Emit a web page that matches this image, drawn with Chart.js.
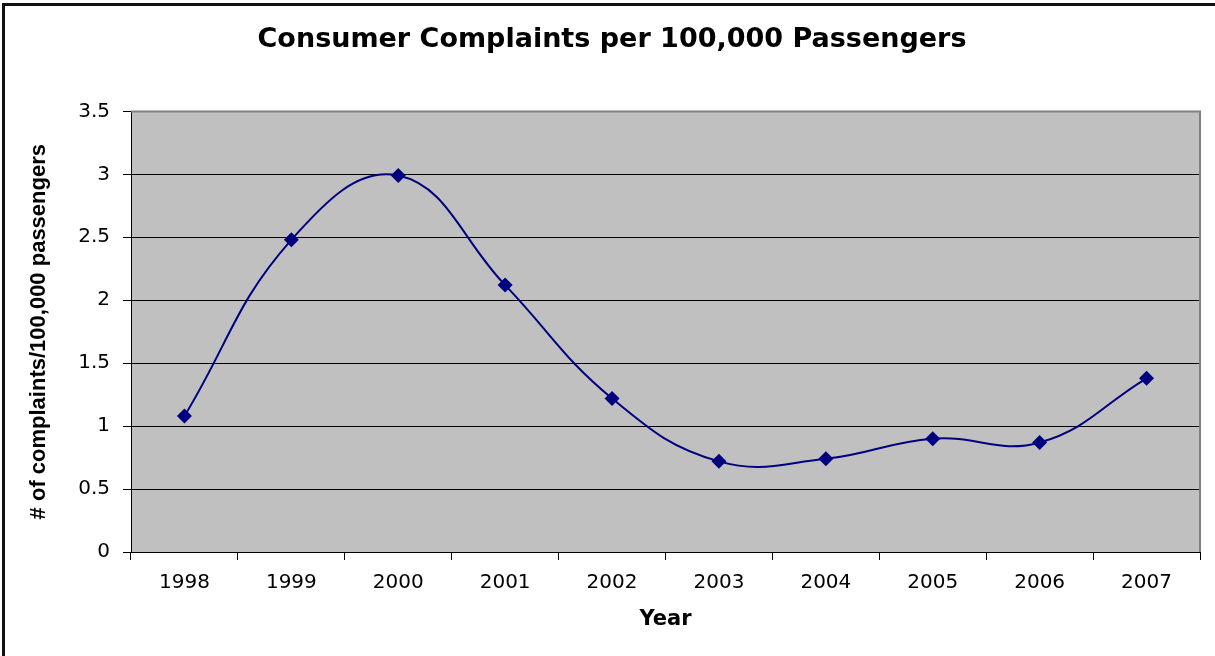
<!DOCTYPE html>
<html>
<head>
<meta charset="utf-8">
<title>Consumer Complaints per 100,000 Passengers</title>
<script src="https://cdn.jsdelivr.net/npm/chart.js@4/dist/chart.umd.min.js"></script>
<style>
  html, body { margin: 0; padding: 0; background: #fff; }
  canvas { display: block; }
</style>
</head>
<body>
<canvas id="chart" width="1215" height="656"></canvas>
<script>
// Years on the category axis
const years = ['1998', '1999', '2000', '2001', '2002', '2003', '2004', '2005', '2006', '2007'];
// Complaints per 100,000 passengers
const complaints = [1.08, 2.48, 2.99, 2.12, 1.22, 0.72, 0.74, 0.90, 0.87, 1.38];
// Value-axis ticks
const yTicks = [0, 0.5, 1, 1.5, 2, 2.5, 3, 3.5];

const yMin = yTicks[0];
const yMax = yTicks[yTicks.length - 1];
const yStep = yTicks[1] - yTicks[0];

// Page background, outer frame, grey plot area and its border
const plotFrame = {
  id: 'plotFrame',
  beforeDraw(chart) {
    const { ctx, chartArea: a, width, height } = chart;
    ctx.save();
    ctx.fillStyle = '#ffffff';
    ctx.fillRect(0, 0, width, height);
    ctx.fillStyle = '#111111';
    ctx.fillRect(2, 3, width - 2, 3);
    ctx.fillRect(2, 3, 3, height - 3);
    ctx.fillStyle = '#c0c0c0';
    ctx.fillRect(a.left, a.top, a.right - a.left, a.bottom - a.top);
    ctx.restore();
  },
  beforeDatasetsDraw(chart) {
    const { ctx, chartArea: a } = chart;
    ctx.save();
    ctx.strokeStyle = '#808080';
    ctx.lineWidth = 2;
    ctx.beginPath();
    ctx.moveTo(a.left, a.top);
    ctx.lineTo(a.right, a.top);
    ctx.lineTo(a.right, a.bottom);
    ctx.stroke();
    ctx.restore();
  }
};

new Chart(document.getElementById('chart'), {
  type: 'line',
  data: {
    labels: years,
    datasets: [{
      data: complaints,
      borderColor: '#000080',
      backgroundColor: '#000080',
      borderWidth: 2,
      tension: 0.42,
      fill: false,
      pointStyle: 'rectRot',
      pointRadius: 7.5,
      pointHoverRadius: 7.5,
      pointBorderWidth: 0
    }]
  },
  options: {
    responsive: false,
    animation: false,
    devicePixelRatio: 1,
    layout: { padding: { left: 24, right: 15, top: 0, bottom: 0 } },
    plugins: {
      legend: { display: false },
      tooltip: { enabled: false },
      title: {
        display: true,
        text: 'Consumer Complaints per 100,000 Passengers',
        color: '#000',
        font: { family: 'DejaVu Sans', size: 27, weight: 'bold' },
        padding: { top: 24, bottom: 55 }
      }
    },
    scales: {
      x: {
        type: 'category',
        offset: true,
        grid: {
          offset: true,
          drawOnChartArea: false,
          drawTicks: true,
          tickLength: 8,
          color: '#000',
          lineWidth: 1
        },
        border: { color: '#000', width: 1 },
        ticks: {
          color: '#000',
          font: { family: 'DejaVu Sans', size: 20 },
          padding: 11,
          maxRotation: 0,
          autoSkip: false
        },
        title: {
          display: true,
          text: 'Year',
          color: '#000',
          font: { family: 'DejaVu Sans', size: 21, weight: 'bold' },
          padding: { top: 0, bottom: 24 }
        },
        afterFit(scale) { scale.height = 104; }
      },
      y: {
        min: yMin,
        max: yMax,
        grid: {
          color: (c) => (c.tick && c.tick.value === yMax) ? 'rgba(0,0,0,0)' : '#000',
          tickColor: '#000',
          tickLength: 8,
          lineWidth: 1
        },
        border: { color: '#000', width: 1 },
        ticks: {
          stepSize: yStep,
          color: '#000',
          font: { family: 'DejaVu Sans', size: 20 },
          padding: 13,
          callback: (v) => String(v)
        },
        afterBuildTicks(scale) {
          scale.ticks = yTicks.map(v => ({ value: v }));
        },
        title: {
          display: true,
          text: '# of complaints/100,000 passengers',
          color: '#000',
          font: { family: 'Liberation Sans', size: 22, weight: 'bold' },
          padding: { top: 2 }
        },
        afterFit(scale) { scale.width = 107; }
      }
    }
  },
  plugins: [plotFrame]
});
</script>
</body>
</html>
